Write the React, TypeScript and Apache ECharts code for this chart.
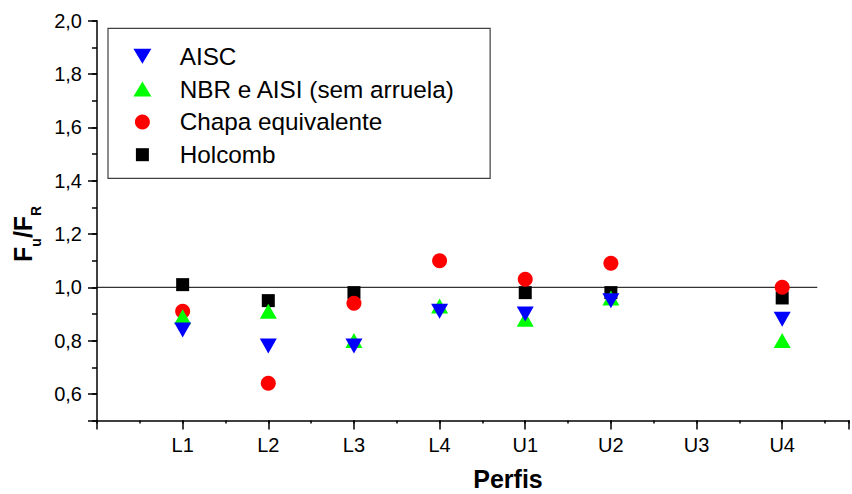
import React, { useEffect, useRef } from 'react';
import * as echarts from 'echarts';

const categories = ['L1', 'L2', 'L3', 'L4', 'U1', 'U2', 'U3', 'U4'];
const aisc = [0.84, 0.78, 0.78, 0.91, 0.9, 0.95, null, 0.88];
const nbr = [0.89, 0.91, 0.8, 0.93, 0.88, 0.96, null, 0.8];
const chapa = [0.91, 0.64, 0.94, 1.1, 1.03, 1.09, null, 1.0];
const holcomb = [1.01, 0.95, 0.98, null, 0.98, 0.98, null, 0.96];
const seriesNames = ['AISC', 'NBR e AISI (sem arruela)', 'Chapa equivalente', 'Holcomb'];
const yTickLabels = ['2,0', '1,8', '1,6', '1,4', '1,2', '1,0', '0,8', '0,6'];
const refLine = [[0, 1.0], [8.41, 1.0]];

const FONT = "'Liberation Sans', Arial, sans-serif";
const DOWN_TRI = 'path://M0,0L18,0L9,15Z';
const UP_TRI = 'path://M9,0L18,15L0,15Z';
const LEGEND_SQUARE = 'path://M0,0M15,15M1,1L14,1L14,14L1,14Z';

function toPoints(arr: (number | null)[]) {
  const out: number[][] = [];
  arr.forEach((v, i) => {
    if (v !== null) out.push([i + 1, v]);
  });
  return out;
}

export default function App() {
  const ref = useRef<HTMLDivElement>(null);
  useEffect(() => {
    if (!ref.current) return;
    const chart = echarts.init(ref.current, null, { renderer: 'svg' });
    const axisLine = { show: true, onZero: false, lineStyle: { color: '#000', width: 1.5 } };
    const X_MAX = 8.78;
    const option: any = {
      animation: false,
      backgroundColor: '#ffffff',
      grid: { left: 97, top: 20.7, bottom: 73.4, right: 0, containLabel: false },
      xAxis: [
        {
          type: 'value',
          min: 0,
          max: X_MAX,
          interval: 1,
          position: 'bottom',
          axisLine,
          axisTick: { show: true, inside: false, length: 9, lineStyle: { color: '#000', width: 1.5 } },
          splitLine: { show: false },
          axisLabel: {
            color: '#000',
            fontSize: 20,
            fontFamily: FONT,
            margin: 14,
            formatter: (v: number) => {
              const i = Math.round(v);
              return Math.abs(v - i) < 1e-6 && i >= 1 && i <= categories.length ? categories[i - 1] : '';
            },
          },
        },
        {
          type: 'value',
          min: 0,
          max: X_MAX,
          interval: 0.5,
          position: 'bottom',
          axisLine: { show: false, onZero: false },
          axisTick: { show: true, inside: false, length: 3, lineStyle: { color: '#000', width: 1.5 } },
          axisLabel: { show: false },
          splitLine: { show: false },
        },
      ],
      yAxis: [
        {
          type: 'value',
          inverse: true,
          min: 0,
          max: 15,
          interval: 2,
          position: 'left',
          axisLine,
          axisTick: { show: true, inside: false, length: 9, lineStyle: { color: '#000', width: 1.5 } },
          splitLine: { show: false },
          axisLabel: {
            color: '#000',
            fontSize: 20,
            fontFamily: FONT,
            margin: 15,
            formatter: (t: number) => {
              const i = Math.round(t);
              return Math.abs(t - i) < 1e-6 && i % 2 === 0 && i / 2 < yTickLabels.length ? yTickLabels[i / 2] : '';
            },
          },
        },
        {
          type: 'value',
          min: 0.5,
          max: 2.0,
          interval: 0.1,
          position: 'left',
          axisLine: { show: false, onZero: false },
          axisTick: { show: true, inside: false, length: 5, lineStyle: { color: '#000', width: 1.5 } },
          axisLabel: { show: false },
          splitLine: { show: false },
        },
      ],
      legend: {
        orient: 'vertical',
        left: 108,
        top: 28.3,
        padding: [16, 35, 11.6, 25.4],
        itemWidth: 64.6,
        itemHeight: 15,
        itemGap: 8.8,
        borderColor: '#404040',
        borderWidth: 1.2,
        backgroundColor: '#fff',
        textStyle: { color: '#000', fontSize: 24.3, fontFamily: FONT },
        data: [
          { name: seriesNames[0], icon: DOWN_TRI },
          { name: seriesNames[1], icon: UP_TRI },
          { name: seriesNames[2], icon: 'circle' },
          { name: seriesNames[3], icon: LEGEND_SQUARE },
        ],
      },
      series: [
        {
          name: 'ref',
          type: 'line',
          xAxisIndex: 0,
          yAxisIndex: 1,
          data: refLine,
          symbol: 'none',
          lineStyle: { color: '#000', width: 1 },
          silent: true,
          z: 1,
        },
        {
          name: seriesNames[3],
          type: 'scatter',
          xAxisIndex: 0,
          yAxisIndex: 1,
          data: toPoints(holcomb),
          symbol: 'rect',
          symbolSize: 13,
          itemStyle: { color: '#000000', opacity: 1 },
        },
        {
          name: seriesNames[2],
          type: 'scatter',
          xAxisIndex: 0,
          yAxisIndex: 1,
          data: toPoints(chapa),
          symbol: 'circle',
          symbolSize: 15,
          itemStyle: { color: '#ff0000', opacity: 1 },
        },
        {
          name: seriesNames[1],
          type: 'scatter',
          xAxisIndex: 0,
          yAxisIndex: 1,
          data: toPoints(nbr),
          symbol: UP_TRI,
          symbolSize: [17, 15],
          itemStyle: { color: '#00ff00', opacity: 1 },
        },
        {
          name: seriesNames[0],
          type: 'scatter',
          xAxisIndex: 0,
          yAxisIndex: 1,
          data: toPoints(aisc),
          symbol: DOWN_TRI,
          symbolSize: [17, 15],
          itemStyle: { color: '#0000ff', opacity: 1 },
        },
      ],
      graphic: [
        {
          type: 'text',
          x: 508,
          y: 479,
          style: { text: 'Perfis', fontSize: 25, fontWeight: 'bold', fontFamily: FONT, fill: '#000', align: 'center', verticalAlign: 'middle' },
        },
        {
          type: 'group',
          x: 22.5,
          y: 262,
          rotation: Math.PI / 2,
          children: [
            { type: 'text', x: 0, y: 0, style: { text: 'F', fontSize: 25, fontWeight: 'bold', fontFamily: FONT, fill: '#000', align: 'left', verticalAlign: 'middle' } },
            { type: 'text', x: 15.3, y: 13, style: { text: 'u', fontSize: 14, fontWeight: 'bold', fontFamily: FONT, fill: '#000', align: 'left', verticalAlign: 'middle' } },
            { type: 'text', x: 23.9, y: 0, style: { text: '/F', fontSize: 25, fontWeight: 'bold', fontFamily: FONT, fill: '#000', align: 'left', verticalAlign: 'middle' } },
            { type: 'text', x: 46.1, y: 13, style: { text: 'R', fontSize: 14, fontWeight: 'bold', fontFamily: FONT, fill: '#000', align: 'left', verticalAlign: 'middle' } },
          ],
        },
      ],
    };
    chart.setOption(option);
    return () => chart.dispose();
  }, []);
  return <div ref={ref} style={{ position: 'absolute', left: 0, top: 0, width: 852, height: 494 }} />;
}
